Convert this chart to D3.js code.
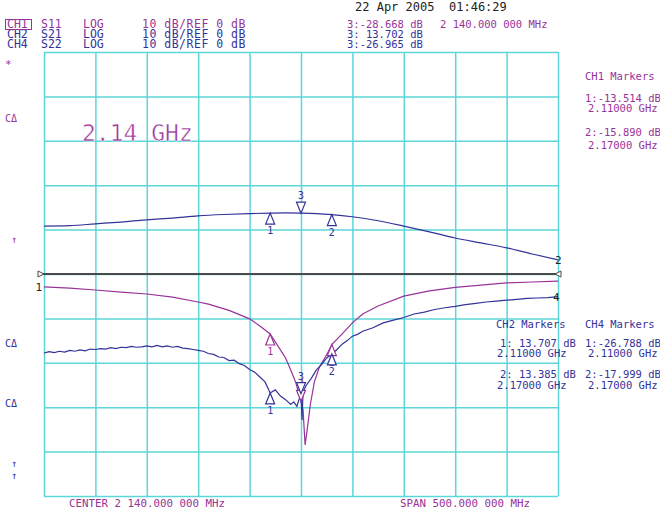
<!DOCTYPE html>
<html>
<meta charset="utf-8">
<style>
  body { margin: 0; background: #fff; }
  svg { display: block; }
  text { font-family: "DejaVu Sans Mono", monospace; }
</style>
<body>
</body>
<script src="https://cdn.jsdelivr.net/npm/d3@7"></script>
<script>

// sweep: center 2.14 GHz, span 500 MHz; all channels 10 dB/div, ref 0 dB at centre line
var freqRange = [1.89, 2.39];
var dbRange = [50, -50];

// CH2 S21 (dB)
var s21Freq = [1.89, 1.915, 1.94, 1.965, 1.99, 2.015, 2.04, 2.065, 2.09, 2.11, 2.125, 2.14, 2.155, 2.17, 2.19, 2.215, 2.24, 2.265, 2.29, 2.315, 2.34, 2.365, 2.39];
var s21Db   = [10.8, 10.9, 11.3, 11.7, 12.2, 12.6, 13.1, 13.4, 13.6, 13.707, 13.75, 13.702, 13.6, 13.385, 12.9, 12.0, 10.8, 9.5, 8.1, 7.0, 5.9, 4.5, 3.2];

// CH1 S11 (dB)
var s11Freq = [1.89, 1.915, 1.94, 1.965, 1.99, 2.015, 2.04, 2.05, 2.07, 2.09, 2.1, 2.11, 2.12, 2.125, 2.13, 2.135, 2.14, 2.142, 2.144, 2.146, 2.149, 2.153, 2.158, 2.165, 2.17, 2.18, 2.19, 2.2, 2.215, 2.24, 2.265, 2.29, 2.315, 2.34, 2.365, 2.39];
var s11Db   = [-2.9, -3.2, -3.6, -4.1, -4.5, -5.2, -6.3, -6.8, -8.2, -10.1, -11.7, -13.514, -17.1, -18.9, -21.6, -24.5, -28.668, -30.6, -38.5, -35.1, -29.5, -24.3, -20.9, -18.2, -15.89, -13.5, -11.0, -9.0, -7.2, -5.0, -3.8, -3.0, -2.5, -2.0, -1.8, -1.6];

// CH4 S22 (dB), noisy trace read point by point
var s22Freq = [1.890, 1.895, 1.900, 1.905, 1.910, 1.915, 1.920, 1.925, 1.930, 1.935, 1.940, 1.945, 1.950, 1.955, 1.960, 1.965, 1.970, 1.975, 1.980, 1.985, 1.990, 1.995, 2.000, 2.005, 2.010, 2.015, 2.020, 2.025, 2.030, 2.035, 2.040, 2.045, 2.050, 2.055, 2.060, 2.065, 2.070, 2.075, 2.080, 2.085, 2.090, 2.095, 2.100, 2.105, 2.110, 2.115, 2.120, 2.125, 2.130, 2.133, 2.136, 2.139, 2.140, 2.141, 2.142, 2.145, 2.150, 2.155, 2.160, 2.165, 2.170, 2.175, 2.180, 2.185, 2.190, 2.195, 2.200, 2.210, 2.220, 2.230, 2.240, 2.250, 2.260, 2.270, 2.280, 2.290, 2.300, 2.310, 2.320, 2.330, 2.340, 2.350, 2.360, 2.370, 2.380, 2.390];
var s22Db   = [-17.8, -17.5, -17.7, -17.4, -17.6, -17.2, -17.4, -17.1, -17.3, -16.9, -17.0, -16.8, -16.9, -16.6, -16.8, -16.5, -16.6, -16.3, -16.5, -16.4, -16.2, -16.4, -16.1, -16.4, -16.2, -16.5, -16.3, -16.7, -16.8, -17.0, -17.2, -17.4, -17.9, -18.1, -18.7, -18.8, -19.5, -19.4, -20.2, -20.6, -21.5, -22.1, -23.2, -24.3, -26.788, -26.1, -27.5, -28.3, -29.4, -28.8, -29.8, -27.6, -26.965, -32.9, -26.5, -25.1, -23.5, -21.6, -20.4, -18.9, -17.999, -17.0, -15.8, -15.0, -14.0, -13.6, -12.9, -12.1, -11.0, -10.4, -9.8, -9.0, -8.6, -8.0, -7.6, -7.3, -6.9, -6.6, -6.3, -6.1, -5.9, -5.7, -5.5, -5.4, -5.3, -5.1];

// markers 1, 2, 3
var markerFreq = [2.11, 2.17, 2.14];
var markerNames = ["1", "2", "3"];
var s11Markers = [-13.514, -15.890, -28.668];
var s21Markers = [13.707, 13.385, 13.702];
var s22Markers = [-26.788, -17.999, -26.965];

var PURPLE = "#993399", BLUE = "#333399", GRID = "#5cd6d9";

var width = 660, height = 512;
var svg = d3.select("body").append("svg")
  .attr("width", width)
  .attr("height", height);

svg.append("rect").attr("width", width).attr("height", height).attr("fill", "#fff");

var x = d3.scaleLinear().domain(freqRange).range([44, 558]);
var y = d3.scaleLinear().domain(dbRange).range([52, 496]);

// graticule
var xTicks = d3.range(0, 11).map(function (i) { return freqRange[0] + i * 0.05; });
var yTicks = d3.range(0, 11).map(function (i) { return dbRange[0] - i * 10; });

var gx = svg.append("g").attr("transform", "translate(0,52)")
  .call(d3.axisBottom(x).tickValues(xTicks).tickSize(444).tickSizeOuter(0).tickFormat(""));
var gy = svg.append("g").attr("transform", "translate(44,0)")
  .call(d3.axisRight(y).tickValues(yTicks).tickSize(514).tickSizeOuter(0).tickFormat(""));
[gx, gy].forEach(function (g) {
  g.select(".domain").remove();
  g.selectAll("line").attr("stroke", GRID).attr("stroke-width", 1.5);
});

// reference line
svg.append("line")
  .attr("x1", 38).attr("x2", 561)
  .attr("y1", y(0)).attr("y2", y(0))
  .attr("stroke", "#4a4a4a").attr("stroke-width", 2);
svg.append("path")
  .attr("d", "M" + 38 + "," + (y(0) - 3) + "l6,3l-6,3z")
  .attr("fill", "#fff").attr("stroke", "#4a4a4a").attr("stroke-width", 1);
svg.append("path")
  .attr("d", "M" + 561 + "," + (y(0) - 3) + "l-6,3l6,3z")
  .attr("fill", "#fff").attr("stroke", "#4a4a4a").attr("stroke-width", 1);

// traces
function drawTrace(freqs, dbs, color, curve) {
  var pts = freqs.map(function (f, i) { return [f, dbs[i]]; });
  svg.append("path")
    .datum(pts)
    .attr("fill", "none")
    .attr("stroke", color)
    .attr("stroke-width", 1.2)
    .attr("d", d3.line()
      .x(function (d) { return x(d[0]); })
      .y(function (d) { return y(d[1]); })
      .curve(curve));
}
drawTrace(s21Freq, s21Db, BLUE, d3.curveMonotoneX);
drawTrace(s11Freq, s11Db, PURPLE, d3.curveLinear);
drawTrace(s22Freq, s22Db, BLUE, d3.curveLinear);

// trace end labels
function label(tx, ty, str, color, size, anchor) {
  return svg.append("text")
    .attr("x", tx).attr("y", ty)
    .attr("fill", color)
    .attr("font-size", size)
    .attr("text-anchor", anchor || "start")
    .text(str);
}
label(42, 291, "1", "#222", 11, "end");
label(555, 264, "2", "#222", 11);
label(553, 301, "4", "#222", 11);

// markers
function drawMarkers(vals, color) {
  vals.forEach(function (v, i) {
    var mx = x(markerFreq[i]), my = y(v);
    var g = svg.append("g").attr("fill", "none").attr("stroke", color).attr("stroke-width", 1.2);
    if (i < 2) {
      g.append("path").attr("d", "M" + mx + "," + my + "l-4.5,11h9z").attr("fill", "#fff");
      label(mx, my + 21, markerNames[i], color, 10, "middle");
    } else {
      g.append("path").attr("d", "M" + mx + "," + my + "l-4.5,-11h9z").attr("fill", "#fff");
      label(mx, my - 14, markerNames[i], color, 10, "middle");
    }
  });
}
drawMarkers(s21Markers, BLUE);
drawMarkers(s11Markers, PURPLE);
drawMarkers(s22Markers, BLUE);

// big frequency annotation (thin strokes, like the analyser font)
label(82, 141, "2.14 GHz", PURPLE, 23)
  .attr("stroke", "#fff").attr("stroke-width", 0.5);

// header
var chNames = ["CH1", "CH2", "CH4"];
var params = ["S11", "S21", "S22"];
var chColors = [PURPLE, BLUE, BLUE];
var mk3Text = ["3:-28.668 dB", "3: 13.702 dB", "3:-26.965 dB"];
chNames.forEach(function (c, i) {
  var by = 28 + i * 10;
  label(7, by, c, chColors[i], 11.5);
  label(41, by, params[i], chColors[i], 11.5);
  label(83, by, "LOG", chColors[i], 11.5);
  label(142, by, "10 dB/REF 0 dB", chColors[i], 11.5).attr("letter-spacing", 0.5);
  label(347, by, mk3Text[i], chColors[i], 10.5);
});
svg.append("rect").attr("x", 5.5).attr("y", 19.5).attr("width", 26).attr("height", 10)
  .attr("fill", "none").attr("stroke", PURPLE).attr("stroke-width", 1);
label(440, 28, "2 140.000 000 MHz", PURPLE, 10.5);
label(355, 11, "22 Apr 2005", "#222", 12);
label(449, 11, "01:46:29", "#222", 12);

// left soft labels
label(5, 68, "*", PURPLE, 11);
label(5, 122, "C\u0394", PURPLE, 10);
label(11, 243, "\u2191", PURPLE, 10);
label(5, 347, "C\u0394", BLUE, 10);
label(5, 407, "C\u0394", BLUE, 10);
label(11, 467, "\u2191", BLUE, 10);
label(11, 479, "\u2191", BLUE, 10);

// marker tables
var fs = 10.5;
label(585, 80, "CH1 Markers", PURPLE, fs);
label(585, 102, "1:-13.514 dB", PURPLE, fs);
label(588, 112, "2.11000 GHz", PURPLE, fs);
label(585, 136, "2:-15.890 dB", PURPLE, fs);
label(588, 149, "2.17000 GHz", PURPLE, fs);

label(496, 328, "CH2 Markers", BLUE, fs);
label(500, 347, "1: 13.707 dB", BLUE, fs);
label(497, 357, "2.11000 GHz", BLUE, fs);
label(500, 378, "2: 13.385 dB", BLUE, fs);
label(497, 389, "2.17000 GHz", BLUE, fs);

label(585, 328, "CH4 Markers", BLUE, fs);
label(585, 347, "1:-26.788 dB", BLUE, fs);
label(588, 357, "2.11000 GHz", BLUE, fs);
label(585, 378, "2:-17.999 dB", BLUE, fs);
label(588, 389, "2.17000 GHz", BLUE, fs);

// footer
label(69, 507, "CENTER 2 140.000 000 MHz", PURPLE, 10.8);
label(400, 507, "SPAN 500.000 000 MHz", PURPLE, 10.8);

</script>
</html>
